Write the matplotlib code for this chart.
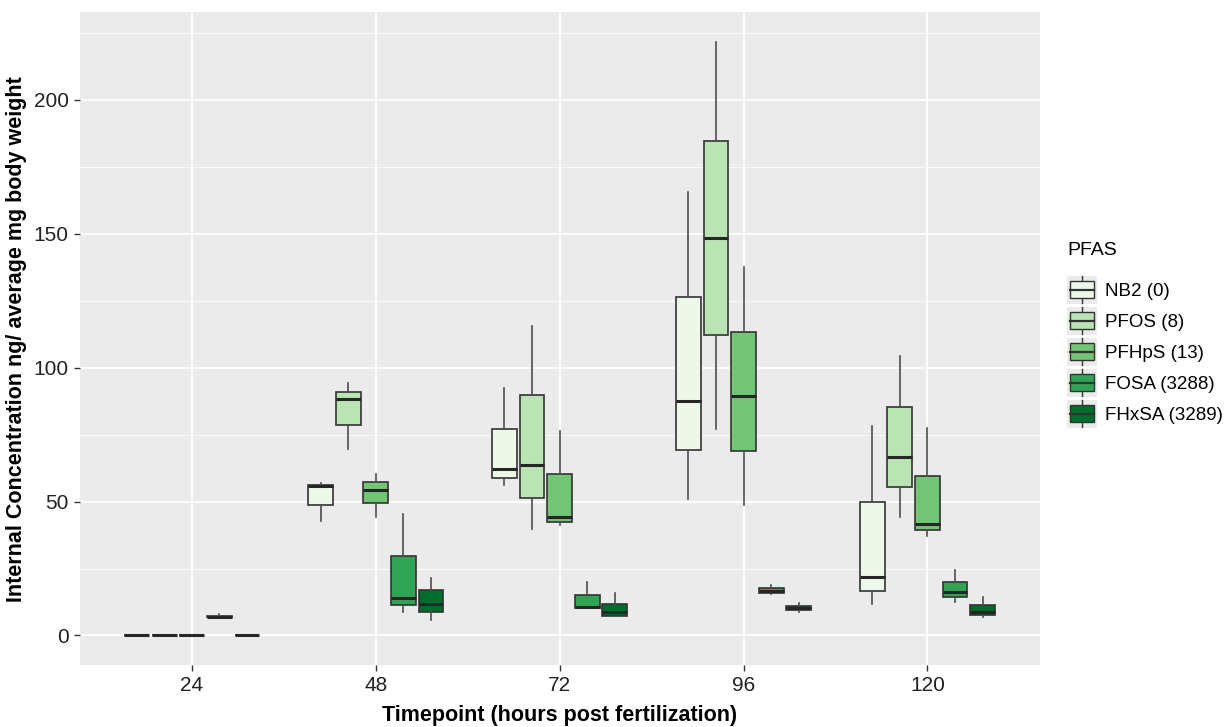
import numpy as np
import matplotlib.pyplot as plt
from matplotlib.patches import Rectangle
from matplotlib.lines import Line2D
from matplotlib.legend_handler import HandlerBase

plt.rcParams['font.family'] = ['Liberation Sans', 'DejaVu Sans']

timepoints = ["24", "48", "72", "96", "120"]
compounds = ["NB2 (0)", "PFOS (8)", "PFHpS (13)", "FOSA (3288)", "FHxSA (3289)"]
colors = ["#EDF8E9", "#BAE4B3", "#74C476", "#31A354", "#006D2C"]

# rows = compounds, columns = timepoints
med = np.array([
    [0.1, 55.9, 62.2, 87.7, 21.9],
    [0.1, 88.3, 63.8, 148.3, 66.7],
    [0.1, 54.5, 44.3, 89.6, 41.8],
    [7.0, 13.9, 10.7, 16.7, 16.3],
    [0.1, 11.9, 8.7, 10.2, 8.7],
])
q1 = np.array([
    [0.0, 48.9, 58.8, 69.2, 16.7],
    [0.0, 78.6, 51.4, 112.3, 55.5],
    [0.0, 49.4, 42.4, 68.9, 39.4],
    [6.8, 11.2, 10.3, 15.9, 14.2],
    [0.0, 8.7, 7.2, 9.4, 7.6],
])
q3 = np.array([
    [0.3, 56.3, 77.2, 126.4, 49.9],
    [0.3, 91.0, 89.7, 184.5, 85.2],
    [0.3, 57.3, 60.4, 113.4, 59.5],
    [7.3, 29.6, 15.3, 17.6, 20.1],
    [0.3, 16.9, 11.8, 11.1, 11.3],
])
whislo = np.array([
    [0.0, 42.6, 56.3, 51.1, 11.6],
    [0.0, 69.7, 39.8, 77.1, 44.3],
    [0.0, 44.4, 41.4, 48.6, 37.3],
    [6.8, 8.7, 10.3, 15.5, 12.4],
    [0.0, 5.7, 7.2, 8.8, 7.0],
])
whishi = np.array([
    [0.3, 57.0, 92.6, 165.7, 78.4],
    [0.3, 94.3, 115.7, 221.6, 104.2],
    [0.3, 60.4, 76.3, 137.7, 77.4],
    [8.0, 45.5, 19.9, 19.0, 24.4],
    [0.3, 21.3, 15.9, 12.1, 14.4],
])


class BoxKey(HandlerBase):
    def create_artists(self, legend, orig_handle, xdescent, ydescent,
                       width, height, fontsize, trans):
        fc = orig_handle.get_facecolor()
        x0, y0 = -xdescent, -ydescent
        bg = Rectangle((x0, y0 - 0.35 * height), width, height * 1.7,
                       facecolor="#EBEBEB", edgecolor="none", transform=trans)
        cx = x0 + width / 2
        wl = Line2D([cx, cx], [y0 - 0.3 * height, y0 + 1.3 * height],
                    color="#333333", lw=1.0, transform=trans)
        box = Rectangle((x0 + 0.1 * width, y0), 0.8 * width, height,
                        facecolor=fc, edgecolor="#333333", lw=1.0, transform=trans)
        ml = Line2D([x0 + 0.1 * width, x0 + 0.9 * width],
                    [y0 + height / 2] * 2, color="#333333", lw=1.6,
                    transform=trans)
        return [bg, wl, box, ml]


fig = plt.figure(figsize=(12.26, 7.27), dpi=100)
ax = fig.add_axes([0.065, 0.085, 0.783, 0.898])
ax.set_facecolor("#EBEBEB")

dodge = 0.15
bw = 0.135
for k in range(len(compounds)):
    stats = []
    for i in range(len(timepoints)):
        stats.append(dict(med=med[k, i], q1=q1[k, i], q3=q3[k, i],
                          whislo=whislo[k, i], whishi=whishi[k, i], fliers=[]))
    pos = np.arange(1, len(timepoints) + 1) + (k - 2) * dodge
    ax.bxp(stats, positions=pos, widths=bw, patch_artist=True, showcaps=False,
           showfliers=False, manage_ticks=False,
           boxprops=dict(facecolor=colors[k], edgecolor="#333333", lw=1.2),
           whiskerprops=dict(color="#4D4D4D", lw=1.2),
           medianprops=dict(color="#262626", lw=2.2), zorder=3)

ax.set_xlim(0.39, 5.61)
ax.set_ylim(-11.1, 232.7)
ax.set_xticks(range(1, 6))
ax.set_xticklabels(timepoints)
ax.set_yticks([0, 50, 100, 150, 200])
ax.set_yticks([25, 75, 125, 175, 225], minor=True)
ax.grid(True, which="major", color="white", lw=1.3, zorder=0)
ax.grid(True, which="minor", axis="y", color="white", lw=0.6, zorder=0)
ax.set_axisbelow(True)
for s in ax.spines.values():
    s.set_visible(False)
ax.tick_params(axis="both", which="major", labelsize=15, labelcolor="#222222",
               color="#333333", length=4, width=1.0, pad=4)
ax.tick_params(axis="y", which="minor", length=0)

ax.set_xlabel("Timepoint (hours post fertilization)", fontsize=15.5,
              fontweight="bold", labelpad=7)
ax.set_ylabel("Internal Concentration ng/ average mg body weight", fontsize=15.5,
              fontweight="bold", labelpad=5)

handles = [Rectangle((0, 0), 1, 1, facecolor=c) for c in colors]
leg = fig.legend(handles, compounds, handler_map={Rectangle: BoxKey()},
                 loc="upper left", bbox_to_anchor=(0.8565, 0.691), frameon=False,
                 title="PFAS", fontsize=13.5, title_fontsize=14,
                 handlelength=1.6, handleheight=1.0, handletextpad=0.45,
                 labelspacing=0.65)
leg._legend_box.align = "left"
leg._legend_box.sep = 16.5

fig.savefig("out.png", dpi=100)
